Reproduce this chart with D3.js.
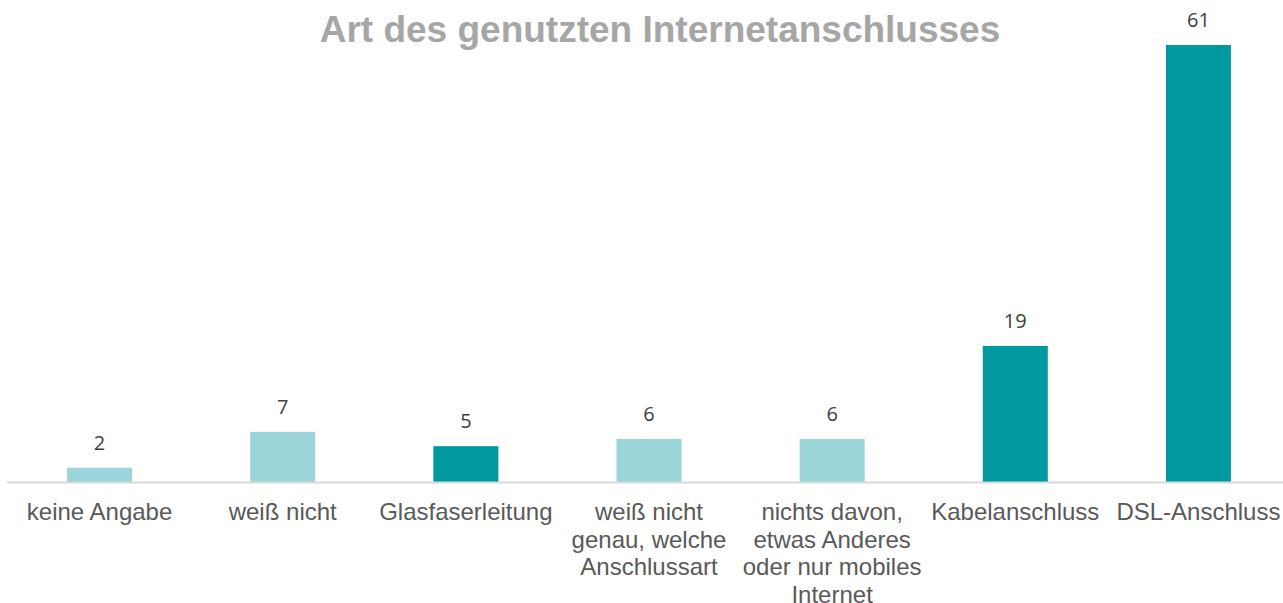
<!DOCTYPE html>
<html><head><meta charset="utf-8">
<script src="https://cdn.jsdelivr.net/npm/d3@7"></script>
<style>body{margin:0;background:#fff;}svg{display:block;}</style>
</head><body>
<svg id="c" width="1283" height="603"></svg>
<script>
const categories = [
  ["keine Angabe"],
  ["weiß nicht"],
  ["Glasfaserleitung"],
  ["weiß nicht", "genau, welche", "Anschlussart"],
  ["nichts davon,", "etwas Anderes", "oder nur mobiles", "Internet"],
  ["Kabelanschluss"],
  ["DSL-Anschluss"]
];
const values = [2, 7, 5, 6, 6, 19, 61];
const highlight = [false, false, true, false, false, true, true];
const title = "Art des genutzten Internetanschlusses";

const svg = d3.select("#c");
const x = d3.scaleBand().domain(d3.range(values.length)).range([8, 1290]).paddingInner(0.645).paddingOuter(0.3225);
const y = d3.scaleLinear().domain([0, 61]).range([482, 45]);

svg.append("text").attr("x", 660).attr("y", 42).attr("text-anchor", "middle")
  .style("font-family", "'Liberation Sans', Arial, sans-serif").attr("font-weight", "bold")
  .attr("font-size", 37).attr("fill", "#A6A6A6").text(title);

svg.selectAll("rect.bar").data(values).enter().append("rect")
  .attr("x", (d, i) => x(i)).attr("width", x.bandwidth())
  .attr("y", d => y(d)).attr("height", d => y(0) - y(d))
  .attr("fill", (d, i) => highlight[i] ? "#0099A0" : "#9BD5D9");

svg.append("line").attr("x1", 7).attr("x2", 1283).attr("y1", 482.5).attr("y2", 482.5)
  .attr("stroke", "#D9D9D9").attr("stroke-width", 2);

svg.selectAll("text.val").data(values).enter().append("text")
  .attr("x", (d, i) => x(i) + x.bandwidth() / 2).attr("y", d => y(d) - 18)
  .attr("text-anchor", "middle").style("font-family", "'Open Sans', sans-serif")
  .attr("font-size", 20).attr("fill", "#404040").text(d => d);

const lab = svg.selectAll("text.cat").data(categories).enter().append("text")
  .attr("text-anchor", "middle").style("font-family", "'Liberation Sans', Arial, sans-serif")
  .attr("font-size", 24).attr("fill", "#595959");
lab.each(function(lines, i) {
  const t = d3.select(this);
  lines.forEach((l, j) => t.append("tspan").attr("x", x(i) + x.bandwidth() / 2).attr("y", 520 + j * 27.5).text(l));
});
</script>
</body></html>
